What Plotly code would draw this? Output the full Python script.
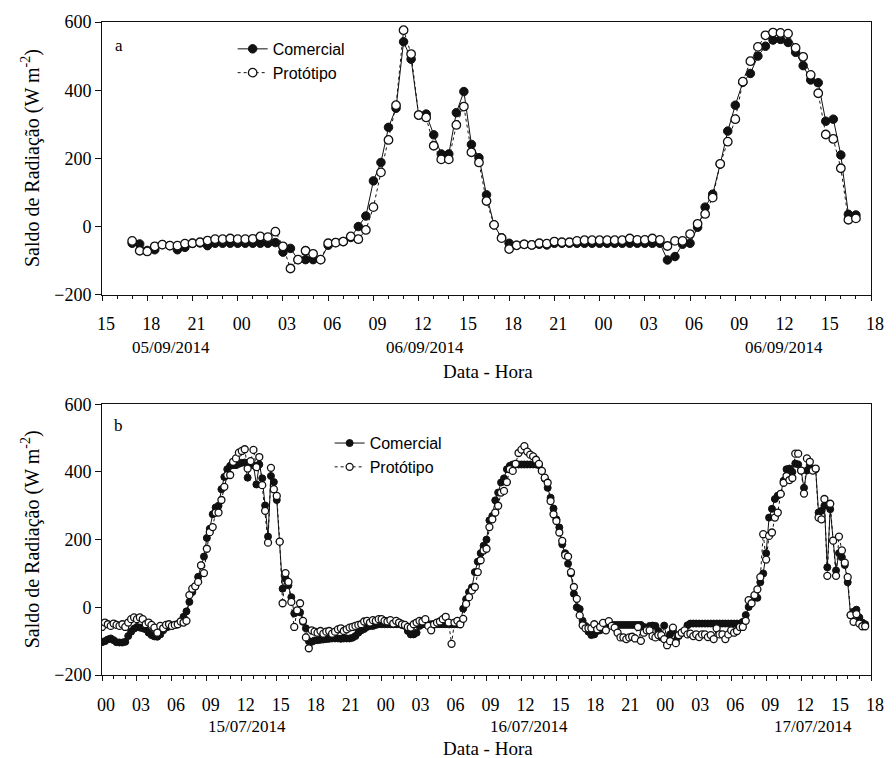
import pandas as pd
import plotly.graph_objects as go

# ---- Panel a: 30-min net radiation, 05/09/2014 17:00 to 07/09/2014 17:00 ----
tempo_a = pd.date_range("2014-09-05 17:00", periods=97, freq="30min")
comercial_a = [
    -49, -51, -70, -68, -53, -56, -68, -61, -49, -48,
    -56, -49, -49, -49, -49, -49, -49, -49, -49, -47,
    -75, -64, -97, -97, -97, -97, -55, -47, -44, -32,
    0, 31, 134, 188, 291, 347, 542, 491, 327, 330,
    269, 213, 213, 334, 396, 241, 202,
    93, 5, -33, -49, -55, -52, -54, -52, -54, -49,
    -49, -49, -49, -49, -49, -49, -49, -49, -49, -49, -49, -49, -49, -49,
    -98, -88, -52, -49, -2, 57, 95, 183, 280, 356,
    423, 449, 500, 529, 547, 549, 540, 511, 472, 430,
    422, 309, 315, 210, 36, 34,
]
prototipo_a = [
    -42, -71, -73, -58, -53, -56, -56, -50, -49, -46,
    -41, -37, -37, -35, -37, -37, -36, -29, -31, -15,
    -58, -123, -97, -71, -80, -97, -49, -47, -44, -29,
    -37, -10, 57, 159, 254, 356, 576, 506, 327, 320,
    237, 197, 197, 298, 352, 218, 188,
    75, 5, -34, -66, -55, -52, -54, -49, -50, -44,
    -46, -46, -42, -40, -40, -40, -40, -40, -40, -35, -39, -39, -35, -39,
    -57, -42, -42, -22, 8, 37, 85, 184, 249, 315,
    425, 485, 527, 561, 569, 568, 566, 524, 498, 445,
    391, 270, 257, 171, 20, 24,
]

# ---- Panel b: 15-min net radiation, 15/07/2014 00:00 to 17/07/2014 17:30 ----
tempo_b = pd.date_range("2014-07-15 00:00", periods=263, freq="15min")
comercial_b = [
    -103, -100, -95, -92, -97, -103, -104, -104, -102, -85, -72, -63,
    -58, -60, -62, -65, -75, -82, -86, -87, -80, -68, -60, -57,
    -55, -52, -50, -45, -28, -12, 16, 45, 62, 90, 124, 150,
    205, 232, 275, 295, 300, 349, 385, 408, 418, 420, 420, 424,
    427, 428, 383, 425, 420, 363, 422, 381, 301, 209, 388, 370,
    317, 194, 55, 85, 65, 30, -18, -10, -15, -43, -62, -100,
    -102, -98, -97, -96, -95, -94, -93, -92, -92, -92, -93, -92,
    -92, -92, -90, -85, -75, -68, -64, -58, -55, -55, -52, -50,
    -50, -50, -50, -50, -50, -50, -50, -52, -55, -70, -80, -80,
    -75, -55, -50, -50, -50, -50, -50, -50, -50, -50, -50, -50,
    -50, -50, -50, -48, -4, 24, 45, 59, 104, 135, 160, 182,
    200, 257, 270, 316, 339, 369, 381, 408, 418, 422, 422, 422,
    422, 422, 422, 422, 422, 422, 420, 403, 380, 353, 324, 292,
    260, 236, 186, 160, 129, 100, 40, 0, -5, -40, -55, -72,
    -82, -80, -70, -68, -60, -55, -52, -52, -52, -52, -52, -52,
    -52, -52, -52, -52, -52, -52, -58, -63, -55, -54, -55, -70,
    -89, -54, -94, -80, -70, -99, -85, -75, -70, -53, -48, -48,
    -48, -48, -48, -48, -48, -48, -48, -48, -48, -48, -48, -48,
    -48, -48, -48, -48, -43, -23, 1, 20, 31, 28, 74, 100,
    160, 265, 291, 320, 330, 335, 374, 408, 410, 400, 425, 422,
    404, 353, 404, 412, 410, 408, 280, 285, 300, 118, 290, 197,
    109, 160, 148, 125, 74, -23, -13, -7, -30, -45, -50,
]
prototipo_b = [
    -58, -45, -50, -55, -48, -52, -55, -50, -58, -45, -35, -30,
    -35, -30, -35, -50, -45, -52, -60, -75, -55, -62, -52, -50,
    -55, -52, -50, -42, -45, -40, 36, 55, 62, 75, 124, 101,
    173, 222, 237, 280, 280, 317, 356, 391, 391, 430, 440, 457,
    462, 467, 410, 432, 465, 414, 444, 361, 285, 191, 412, 349,
    329, 194, 12, 101, 75, 16, -58, -9, 12, -40, -89, -121,
    -68, -72, -75, -70, -78, -72, -70, -78, -72, -65, -62, -70,
    -65, -60, -58, -55, -52, -50, -42, -40, -45, -38, -40, -35,
    -35, -40, -42, -38, -48, -40, -45, -50, -52, -58, -60, -50,
    -45, -40, -42, -35, -55, -68, -50, -45, -42, -35, -28, -45,
    -108, -45, -40, -50, -34, 10, 30, 50, 60, 104, 139, 168,
    173, 237, 260, 280, 300, 339, 344, 370, 408, 403, 424, 456,
    466, 476, 460, 451, 446, 436, 424, 403, 383, 368, 314, 275,
    255, 221, 196, 154, 150, 104, 60, 25, -24, -53, -62, -62,
    -62, -50, -65, -58, -46, -68, -41, -55, -60, -75, -89, -89,
    -94, -89, -87, -92, -58, -99, -75, -68, -68, -85, -89, -82,
    -82, -94, -112, -100, -60, -106, -82, -75, -68, -80, -78, -85,
    -80, -88, -80, -80, -88, -82, -94, -62, -80, -80, -94, -80,
    -68, -75, -70, -58, -58, -40, 21, 12, 36, 53, 89, 216,
    141, 211, 221, 265, 280, 335, 368, 388, 376, 382, 454, 454,
    404, 336, 440, 430, 404, 410, 265, 260, 320, 93, 306, 197,
    93, 209, 168, 132, 89, -23, -43, -20, -48, -56, -56,
]

# Text shown under the hour ticks
datas_a = ["05/09/2014", "06/09/2014", "06/09/2014"]
datas_b = ["15/07/2014", "16/07/2014", "17/07/2014"]
serie_nomes = ["Comercial", "Protótipo"]

SERIF = "Liberation Serif, Times New Roman, serif"
SANS = "Liberation Sans, Arial, sans-serif"
INK = "#111111"

W, H = 896, 758
ML, MR, MT, MB = 102, 17, 19, 83
PW, PH = W - ML - MR, H - MT - MB


def px_x(px):
    return (px - ML) / PW


def px_y(py):
    return (H - MB - py) / PH


fig = go.Figure()


def add_pair(t, com, pro, xa, ya, leg, size):
    fig.add_trace(go.Scatter(
        x=t, y=com, name=serie_nomes[0], mode="lines+markers",
        xaxis=xa, yaxis=ya, legend=leg,
        line=dict(color=INK, width=1),
        marker=dict(symbol="circle", size=size, color=INK,
                    line=dict(color=INK, width=1)),
    ))
    fig.add_trace(go.Scatter(
        x=t, y=pro, name=serie_nomes[1], mode="lines+markers",
        xaxis=xa, yaxis=ya, legend=leg,
        line=dict(color=INK, width=1, dash="dot"),
        marker=dict(symbol="circle", size=size, color="white",
                    line=dict(color=INK, width=1.3)),
    ))


add_pair(tempo_a, comercial_a, prototipo_a, "x", "y", "legend", 8.5)
add_pair(tempo_b, comercial_b, prototipo_b, "x2", "y2", "legend2", 7)

HOUR = 3600000
xcommon = dict(
    type="date", tickformat="%H", dtick=3 * HOUR,
    showline=True, mirror=True, linecolor=INK, linewidth=1,
    ticks="outside", ticklen=5, tickwidth=1, tickcolor=INK,
    minor=dict(dtick=HOUR, ticks="outside", ticklen=3, tickwidth=1, tickcolor=INK),
    showgrid=False, zeroline=False,
    tickfont=dict(family=SERIF, size=18, color="black"),
    ticklabelstandoff=8, ticklabelshift=4,
)
ycommon = dict(
    range=[-200, 600], dtick=200, tick0=0,
    showline=True, mirror=True, linecolor=INK, linewidth=1,
    ticks="outside", ticklen=6, tickwidth=1, tickcolor=INK,
    showgrid=False, zeroline=False,
    tickfont=dict(family=SERIF, size=18, color="black"),
)

top_a, bot_a = px_y(19), px_y(293)
top_b, bot_b = px_y(403), px_y(675)

fig.update_layout(
    width=W, height=H,
    margin=dict(l=ML, r=MR, t=MT, b=MB),
    paper_bgcolor="white", plot_bgcolor="white",
    xaxis=dict(xcommon, domain=[0, 1], anchor="y",
               range=["2014-09-05 15:00", "2014-09-07 18:00"], tick0="2014-09-05 00:00"),
    yaxis=dict(ycommon, domain=[bot_a, top_a], anchor="x"),
    xaxis2=dict(xcommon, domain=[0, 1], anchor="y2",
                range=["2014-07-15 00:00", "2014-07-17 18:00"], tick0="2014-07-15 00:00"),
    yaxis2=dict(ycommon, domain=[bot_b, top_b], anchor="x2"),
    legend=dict(x=px_x(234), y=px_y(29), xanchor="left", yanchor="top",
                bgcolor="rgba(0,0,0,0)", borderwidth=0,
                font=dict(family=SANS, size=16, color="black"),
                tracegroupgap=0),
    legend2=dict(x=px_x(332), y=px_y(425), xanchor="left", yanchor="top",
                 bgcolor="rgba(0,0,0,0)", borderwidth=0,
                 font=dict(family=SANS, size=16, color="black"),
                 tracegroupgap=0),
    showlegend=True,
)

ann = []


def label(text, px, py, size=18, angle=0, family=SERIF):
    ann.append(dict(text=text, x=px_x(px), y=px_y(py), xref="paper", yref="paper",
                    showarrow=False, xanchor="center", yanchor="middle",
                    textangle=angle, font=dict(family=family, size=size, color="black")))


# panel letters
label("a", 119, 43, size=17)
label("b", 119, 424, size=17)

# day labels under the hour ticks
for txt, px in zip(datas_a, [172, 428, 791]):
    label(txt, px, 346, size=17)
for txt, px in zip(datas_b, [249, 533, 820]):
    label(txt, px, 727, size=17)

# axis titles
label("Data - Hora", 492, 370, size=19)
label("Data - Hora", 492, 749, size=19)
ytitle = "Saldo de Radiação (W m<sup>-2</sup>)"
label(ytitle, 30, 156, size=20, angle=-90)
label(ytitle, 30, 539, size=20, angle=-90)

fig.update_layout(annotations=ann)

fig.write_html("out.html")
